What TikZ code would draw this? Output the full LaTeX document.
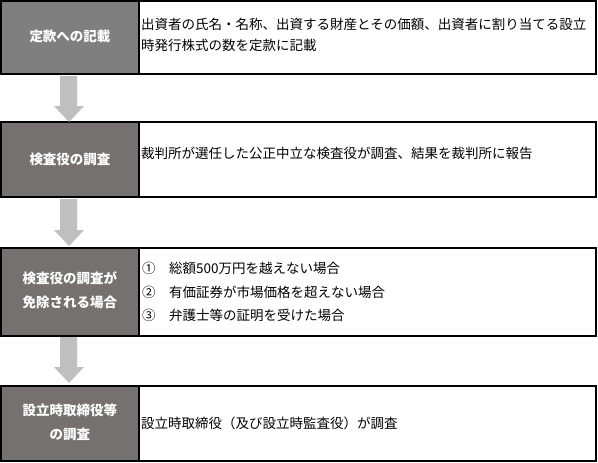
\documentclass[tikz,border=0pt]{standalone}
\usepackage{fontspec}
\setmainfont{Noto Sans CJK JP}
\usetikzlibrary{positioning}
\definecolor{headA}{HTML}{7F7F7F}
\definecolor{headB}{HTML}{767171}
\definecolor{arrowgray}{HTML}{BFBFBF}
\tikzset{
  headbox/.style={draw=black, line width=1.3pt, text=white, font=\fontsize{13.5}{24}\selectfont\bfseries, align=center, inner sep=0pt},
  bodybox/.style={draw=black, line width=1.3pt, fill=white, inner sep=0pt},
  bodytext/.style={anchor=west, inner sep=0pt, font=\fontsize{13.5}{21.5}\selectfont, align=left},
  flowarrow/.style={fill=arrowgray, draw=none}
}
\begin{document}
\begin{tikzpicture}[x=1pt,y=-1pt]
\useasboundingbox (0,0) rectangle (598,463);
% row boxes
\path[bodybox] (139,1) rectangle (596,74);
\path[bodybox] (139,122) rectangle (596,197);
\path[bodybox] (139,248) rectangle (596,336);
\path[bodybox] (139,386) rectangle (596,461);
\path[headbox, fill=headA] (1,1) rectangle (139,74);
\path[headbox, fill=headB] (1,122) rectangle (139,197);
\path[headbox, fill=headB] (1,248) rectangle (139,336);
\path[headbox, fill=headB] (1,386) rectangle (139,461);
% header labels
\node[headbox, draw=none] (h1) at (70,36) {定款への記載};
\node[headbox, draw=none] (h2) at (70,159) {検査役の調査};
\node[headbox, draw=none] (h3) at (70,290) {検査役の調査が\\免除される場合};
\node[headbox, draw=none] (h4) at (70,422) {設立時取締役等\\の調査};
% body texts
\node[bodytext] (b1) at (141,35) {出資者の氏名・名称、出資する財産とその価額、出資者に割り当てる設立\\時発行株式の数を定款に記載};
\node[bodytext] (b2) at (141,153) {裁判所が選任した公正中立な検査役が調査、結果を裁判所に報告};
\node[bodytext, font=\fontsize{13.5}{23.5}\selectfont] (b3) at (142,292) {①　総額500万円を越えない場合\\②　有価証券が市場価格を超えない場合\\③　弁護士等の証明を受けた場合};
\node[bodytext] (b4) at (141,423) {設立時取締役（及び設立時監査役）が調査};
% arrows
\foreach \ys/\yh/\yt/\n in {76/106/122/a, 199/230/246/b, 337/367/383/c}{
  \path[flowarrow] (60,\ys) -- (77,\ys) -- (77,\yh) -- (84,\yh) -- (69,\yt) -- (54,\yh) -- (60,\yh) -- cycle;
}
\end{tikzpicture}
\end{document}
